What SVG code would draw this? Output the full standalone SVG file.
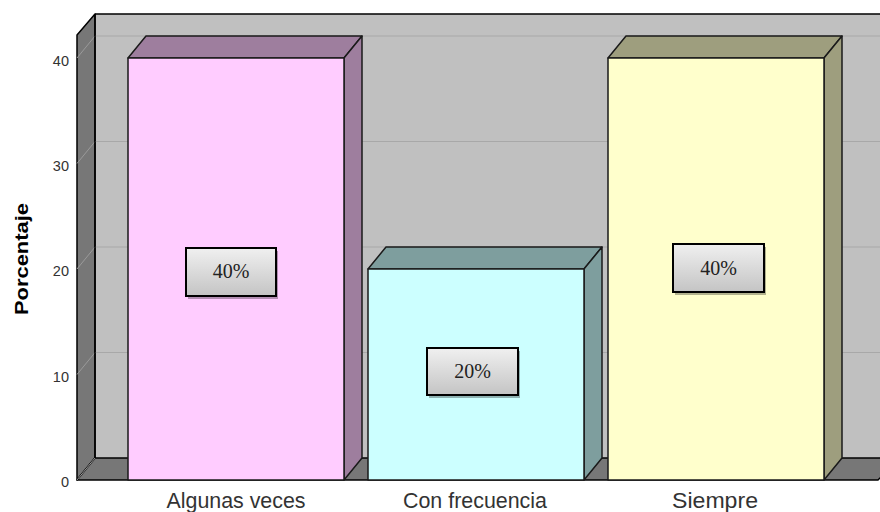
<svg xmlns="http://www.w3.org/2000/svg" width="880" height="512" viewBox="0 0 880 512">
<defs>
<linearGradient id="boxg" x1="0" y1="0" x2="0" y2="1">
<stop offset="0" stop-color="#F0F0F0"/>
<stop offset="1" stop-color="#C4C4C4"/>
</linearGradient>
</defs>
<style>
.wall{fill:#C0C0C0;}
.dark{fill:#777777;stroke:#000;stroke-width:1.5;stroke-linejoin:round;}
.grid{stroke:#A8A8A8;stroke-width:1;fill:none;}
.gridl{stroke:#9A9A9A;stroke-width:1;fill:none;}
.edge{stroke:#000;stroke-width:1.5;fill:none;}
.bar{stroke:#1a1a1a;stroke-width:1.5;stroke-linejoin:round;}
.tick{font-family:"Liberation Sans",Arial,sans-serif;font-size:14.5px;fill:#333;text-anchor:end;}
.cat{font-family:"Liberation Sans",Arial,sans-serif;font-size:22px;fill:#333;text-anchor:middle;}
.ytitle{font-family:"Liberation Sans",Arial,sans-serif;font-size:18px;font-weight:bold;fill:#000;text-anchor:middle;}
.box{fill:url(#boxg);stroke:#000;stroke-width:2;}
.shadow{fill:#000;fill-opacity:0.3;}
.val{font-family:"Liberation Serif","Times New Roman",serif;font-size:20px;fill:#222;text-anchor:middle;}
</style>

<g id="plot">
<rect class="wall" x="95" y="14" width="790" height="444"/>
<polygon class="dark" points="77,35 95,14 95,458 77,480"/>
<polygon class="dark" points="77,480 95,458 900,458 878,480"/>
<g id="gridlines">
<path class="grid" d="M95,36 H880 M95,141.5 H880 M95,247 H880 M95,352.5 H880"/>
<path class="gridl" d="M77,58 L95,36 M77,163.5 L95,141.5 M77,269 L95,247 M77,374.5 L95,352.5 M77,480 L95,458"/>
</g>
<path class="edge" d="M95,14 H880 M95,14 V458"/>
</g>

<g id="y-axis">
<text class="tick" x="69" y="66">40</text>
<text class="tick" x="69" y="171">30</text>
<text class="tick" x="69" y="276">20</text>
<text class="tick" x="69" y="382">10</text>
<text class="tick" x="69" y="487">0</text>
<text class="ytitle" transform="translate(28,259) rotate(-90)" textLength="112" lengthAdjust="spacingAndGlyphs">Porcentaje</text>
</g>

<g id="bar-algunas-veces">
<polygon class="bar" fill="#9E7E9E" points="128,58 146,36 362,36 344,58"/>
<polygon class="bar" fill="#9E7E9E" points="344,58 362,36 362,458 344,480"/>
<rect class="bar" fill="#FFCCFF" x="128" y="58" width="216" height="422"/>
</g>
<g id="bar-con-frecuencia">
<polygon class="bar" fill="#7E9E9E" points="368,269 386,247 602,247 584,269"/>
<polygon class="bar" fill="#7E9E9E" points="584,269 602,247 602,458 584,480"/>
<rect class="bar" fill="#CCFFFF" x="368" y="269" width="216" height="211"/>
</g>
<g id="bar-siempre">
<polygon class="bar" fill="#9E9E7E" points="608,58 626,36 842,36 824,58"/>
<polygon class="bar" fill="#9E9E7E" points="824,58 842,36 842,458 824,480"/>
<rect class="bar" fill="#FFFFCC" x="608" y="58" width="216" height="422"/>
</g>

<g id="label-40-a">
<rect class="shadow" x="188" y="251" width="90" height="48"/>
<rect class="box" x="186" y="248" width="90" height="48"/>
<text class="val" x="231" y="278">40%</text>
</g>
<g id="label-20">
<rect class="shadow" x="429" y="351" width="91" height="47"/>
<rect class="box" x="427" y="348" width="91" height="47"/>
<text class="val" x="472.5" y="377.5">20%</text>
</g>
<g id="label-40-b">
<rect class="shadow" x="675" y="247" width="91" height="48"/>
<rect class="box" x="673" y="244" width="91" height="48"/>
<text class="val" x="718.5" y="274.5">40%</text>
</g>

<g id="x-axis">
<text class="cat" x="236" y="508" textLength="139" lengthAdjust="spacingAndGlyphs">Algunas veces</text>
<text class="cat" x="475" y="508" textLength="144" lengthAdjust="spacingAndGlyphs">Con frecuencia</text>
<text class="cat" x="715" y="508" textLength="86" lengthAdjust="spacingAndGlyphs">Siempre</text>
</g>
</svg>
